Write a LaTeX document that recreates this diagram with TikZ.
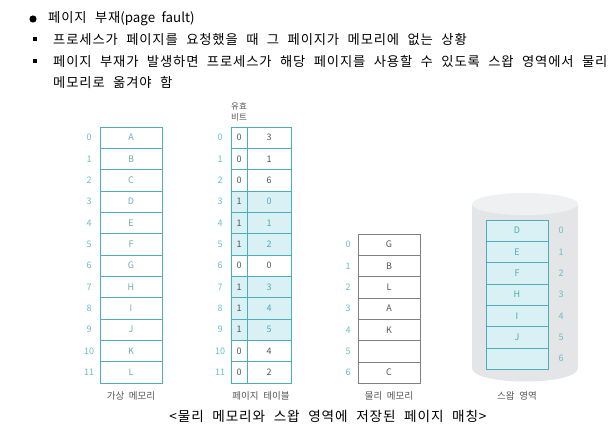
\documentclass[tikz,border=0pt]{standalone}
\usepackage{fontspec}
\setmainfont{Noto Sans CJK KR}
\newfontfamily\bodyfont[WordSpace=2.2,LetterSpace=6.5]{Noto Sans CJK KR}
\newfontfamily\latinfont[WordSpace=2.2]{Noto Sans CJK KR}
\usepackage{xcolor}

\definecolor{lineteal}{HTML}{4BAEB8}
\definecolor{idxteal}{HTML}{66BFC7}
\definecolor{cellfill}{HTML}{D9F1F4}
\definecolor{textgray}{HTML}{555555}
\definecolor{framegray}{HTML}{808080}
\definecolor{diskside}{HTML}{E3E5E7}
\definecolor{disktop}{HTML}{EFF0F1}

\tikzset{
  vcell/.style={draw=lineteal, line width=0.9pt, minimum width=62pt, minimum height=21.33pt,
    inner sep=0pt, text=idxteal!70!gray, font=\fontsize{9}{9}\selectfont},
  bitcell/.style={vcell, minimum width=16pt, text=textgray},
  numcell/.style={vcell, minimum width=44pt, text=textgray},
  hit/.style={fill=cellfill},
  miss/.style={},
  hitnum/.style={fill=cellfill, text=lineteal},
  missnum/.style={},
  pcell/.style={vcell, draw=framegray, text=textgray},
  scell/.style={vcell, fill=cellfill, text=lineteal},
  idx/.style={text=idxteal, font=\fontsize{9}{9}\selectfont},
  partlabel/.style={text=textgray, font=\latinfont\fontsize{9.5}{9.5}\selectfont},
  bodytext/.style={anchor=west, inner sep=0pt, font=\bodyfont\fontsize{13.3}{13.3}\selectfont}
}

\begin{document}
\begin{tikzpicture}[x=1pt, y=-1pt]
  \useasboundingbox (0,0) rectangle (615,441);

  % bullets and text
  \fill (33,19) circle (3.6);
  \node[bodytext] (t1) at (48,19) {페이지 부재{\latinfont(page fault)}};
  \fill (33,37) rectangle (37,41);
  \node[bodytext] (t2) at (53,39) {프로세스가 페이지를 요청했을 때 그 페이지가 메모리에 없는 상황};
  \fill (33,59) rectangle (37,63);
  \node[bodytext] (t3) at (53,61) {페이지 부재가 발생하면 프로세스가 해당 페이지를 사용할 수 있도록 스왑 영역에서 물리};
  \node[bodytext] (t4) at (53,82.5) {메모리로 옮겨야 함};

  % virtual memory
  \foreach \i/\l in {0/A,1/B,2/C,3/D,4/E,5/F,6/G,7/H,8/I,9/J,10/K,11/L} {
    \node[vcell] (v\i) at (131,{127+21.33*(\i+0.5)}) {\l};
    \node[idx] (vi\i) at (89,{127+21.33*(\i+0.5)}) {\i};
  }
  \node[partlabel] (vlab) at (131,396) {가상 메모리};

  % page table
  \node[partlabel, align=center, font=\fontsize{8.5}{11}\selectfont] (valid) at (239,112) {유효\\비트};
  \foreach \i/\b/\f/\s/\t in {0/0/3/miss/missnum,1/0/1/miss/missnum,2/0/6/miss/missnum,
      3/1/0/hit/hitnum,4/1/1/hit/hitnum,5/1/2/hit/hitnum,6/0/0/miss/missnum,
      7/1/3/hit/hitnum,8/1/4/hit/hitnum,9/1/5/hit/hitnum,10/0/4/miss/missnum,11/0/2/miss/missnum} {
    \node[bitcell,\s] (b\i) at (239,{127+21.33*(\i+0.5)}) {\b};
    \node[numcell,\t] (f\i) at (269,{127+21.33*(\i+0.5)}) {\f};
    \node[idx] (pi\i) at (220,{127+21.33*(\i+0.5)}) {\i};
  }
  \node[partlabel] (plab) at (261,396) {페이지 테이블};

  % physical memory
  \foreach \i/\l in {0/G,1/B,2/L,3/A,4/K,5/{},6/C} {
    \node[pcell] (m\i) at (389,{234+21.33*(\i+0.5)}) {\l};
    \node[idx] (mi\i) at (348,{234+21.33*(\i+0.5)}) {\i};
  }
  \node[partlabel] (mlab) at (389,396) {물리 메모리};

  % swap area
  \fill[diskside] (472,204) -- (472,368) .. controls (472,386) and (578,386) .. (578,368) -- (578,204) -- cycle;
  \fill[disktop] (525,204) ellipse (53 and 11);
  \foreach \i/\l in {0/D,1/E,2/F,3/H,4/I,5/J,6/{}} {
    \node[scell] (s\i) at (517,{220+21.33*(\i+0.5)}) {\l};
    \node[idx] (si\i) at (561,{220+21.33*(\i+0.5)}) {\i};
  }
  \node[partlabel] (slab) at (517,396) {스왑 영역};

  \node[font=\bodyfont\fontsize{13.6}{13.6}\selectfont] (title) at (328,416) {<물리 메모리와 스왑 영역에 저장된 페이지 매칭>};
\end{tikzpicture}
\end{document}
